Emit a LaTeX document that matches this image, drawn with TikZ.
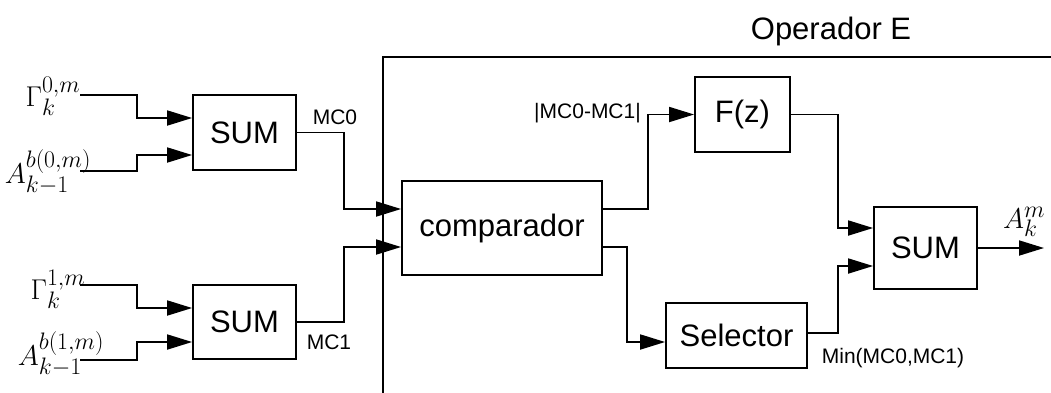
\documentclass[tikz,border=0pt]{standalone}
\usepackage{graphicx}
\usepackage[no-math]{fontspec}
\setmainfont{Liberation Sans}
\usetikzlibrary{arrows.meta}

\newcommand{\mathlbl}[1]{\scalebox{1.15}{$#1$}}

\tikzset{
  block/.style={draw, line width=1.8pt, inner sep=0pt, font=\fontsize{31}{36}\selectfont},
  arr/.style={line width=1.8pt, -{Triangle[length=25pt,width=15pt]}},
  wire/.style={line width=1.8pt},
  lbl/.style={inner sep=0pt, font=\fontsize{21}{25}\selectfont},
  mlbl/.style={inner sep=0pt, font=\fontsize{24.88}{30}\selectfont}
}

\begin{document}
\begin{tikzpicture}[x=1pt, y=-1pt]

    % 1. Khung hình và khối "Operador E"
    \useasboundingbox (0,0) rectangle (1051,392);
    \clip (0,0) rectangle (1051,392);
    \draw[wire] (383,57) rectangle (1120,440);
    \node[inner sep=0pt, font=\fontsize{31}{36}\selectfont] (op) at (831,31) {Operador E};

    % 2. Các khối
    \node[block, minimum width=103pt, minimum height=75pt] (sum1) at (244.5,132.5) {SUM};
    \node[block, minimum width=103pt, minimum height=74pt] (sum2) at (244.5,322) {SUM};
    \node[block, minimum width=200pt, minimum height=94pt] (comp) at (502,228) {comparador};
    \node[block, minimum width=95pt, minimum height=75pt] (fz) at (742.5,114.5) {F(z)};
    \node[block, minimum width=141pt, minimum height=65pt] (sel) at (736.5,335.5) {Selector};
    \node[block, minimum width=103pt, minimum height=82pt] (sum3) at (925.5,248) {SUM};

    % 3. Tín hiệu vào
    \coordinate (g0in) at (80,95);
    \coordinate (a0in) at (80,171);
    \coordinate (g1in) at (80,285);
    \coordinate (a1in) at (80,360);
    \coordinate (out)  at (1044,248);

    \node[mlbl] (g0) at (53,96)  {\mathlbl{\Gamma_k^{0,m}}};
    \node[mlbl] (a0) at (48,172) {\mathlbl{A_{k-1}^{b(0,m)}}};
    \node[mlbl] (g1) at (58,289) {\mathlbl{\Gamma_k^{1,m}}};
    \node[mlbl] (a1) at (61,354) {\mathlbl{A_{k-1}^{b(1,m)}}};
    \node[mlbl] (am) at (1024,222) {\mathlbl{A_k^m}};

    % 4. Các đường nối
    \draw[arr] (g0in) -- ++(57,0) |- ([yshift=14.5pt]sum1.west);
    \draw[arr] (a0in) -- ++(57,0) |- ([yshift=-22.5pt]sum1.west);
    \draw[arr] (g1in) -- ++(57,0) |- ([yshift=14pt]sum2.west);
    \draw[arr] (a1in) -- ++(57,0) |- ([yshift=-20pt]sum2.west);

    \draw[arr] (sum1.east) -- ++(47,0) |- ([yshift=19pt]comp.west);
    \draw[arr] (sum2.east) -- ++(47,0) |- ([yshift=-19pt]comp.west);

    \draw[arr] ([yshift=19pt]comp.east) -- ++(45,0) |- (fz.west);
    \draw[arr] ([yshift=-19pt]comp.east) -- ++(24,0) |- ([yshift=-6.5pt]sel.west);

    \draw[arr] (fz.east) -- ++(47,0) |- ([yshift=20pt]sum3.west);
    \draw[arr] ([yshift=2.5pt]sel.east) -- ++(30,0) |- ([yshift=-18pt]sum3.west);

    \draw[arr] (sum3.east) -- (out);

    % 5. Nhãn tín hiệu
    \node[lbl] (mc0)  at (335,117) {MC0};
    \node[lbl] (mc1)  at (329,342) {MC1};
    \node[lbl] (diff) at (587.5,113) {|MC0-MC1|};
    \node[lbl] (mn)   at (893,358) {Min(MC0,MC1)};

\end{tikzpicture}
\end{document}
